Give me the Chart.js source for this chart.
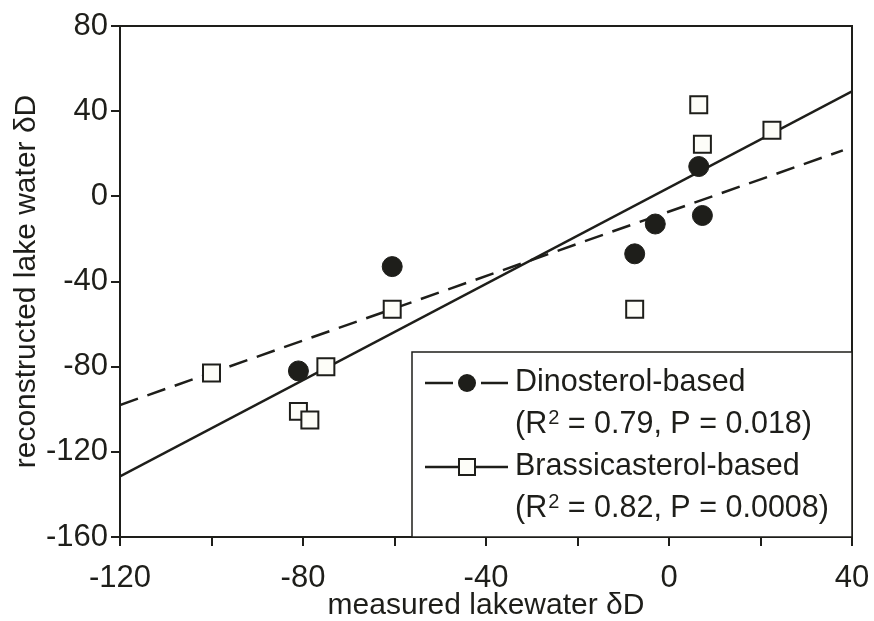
<!DOCTYPE html>
<html>
<head>
<meta charset="utf-8">
<script src="https://cdn.jsdelivr.net/npm/chart.js@4.4.0/dist/chart.umd.min.js"></script>
<style>
html, body { margin: 0; padding: 0; background: #fff; }
#wrap { width: 874px; height: 621px; }
</style>
</head>
<body>
<div id="wrap"><canvas id="chart" width="874" height="621"></canvas></div>
<script>
// measured vs reconstructed lake water dD
var dinoX = [-81, -60.5, -7.5, -3, 6.5, 7.3];
var dinoY = [-82, -33, -27, -13, 14, -9];
var brassX = [-100, -81, -78.5, -75, -60.5, -7.5, 6.5, 7.3, 22.5];
var brassY = [-83, -101, -105, -80, -53, -53, 43, 24.5, 31];

// regression lines (end points)
var dinoFitX = [-120, 38];
var dinoFitY = [-98, 21.6];
var brassFitX = [-120, 40];
var brassFitY = [-131.5, 49.3];

var xTickLabels = [-120, -80, -40, 0, 40];
var yTickLabels = [-160, -120, -80, -40, 0, 40, 80];

var legendNames = ['Dinosterol-based', 'Brassicasterol-based'];
var legendStats = [' = 0.79, P = 0.018)', ' = 0.82, P = 0.0008)'];

var ink = '#1e1e1a';
var font = '"Liberation Sans", Arial, sans-serif';

function toPoints(xs, ys) {
    var pts = [];
    for (var i = 0; i < xs.length; i++) {
        pts.push({x: xs[i], y: ys[i]});
    }
    return pts;
}

// top + right frame of the plot box
var framePlugin = {
    id: 'frame',
    beforeDatasetsDraw: function(chart) {
        var a = chart.chartArea;
        var ctx = chart.ctx;
        ctx.save();
        ctx.strokeStyle = ink;
        ctx.lineWidth = 2;
        ctx.beginPath();
        ctx.moveTo(a.left - 9, a.top);
        ctx.lineTo(a.right, a.top);
        ctx.lineTo(a.right, a.bottom);
        ctx.stroke();
        ctx.restore();
    }
};

// boxed legend in the lower right corner
var legendPlugin = {
    id: 'boxLegend',
    afterDraw: function(chart) {
        var a = chart.chartArea;
        var ctx = chart.ctx;
        var left = 412, top = 352;
        ctx.save();
        ctx.fillStyle = '#fff';
        ctx.fillRect(left, top, a.right - left, a.bottom - top);
        ctx.strokeStyle = ink;
        ctx.lineWidth = 1.5;
        ctx.strokeRect(left, top, a.right - left, a.bottom - top);

        var rows = [383, 467];
        var textX = 515;
        ctx.lineWidth = 2.5;
        for (var i = 0; i < 2; i++) {
            var y = rows[i];
            ctx.beginPath();
            if (i == 0) {
                ctx.moveTo(425, y); ctx.lineTo(453, y);
                ctx.moveTo(481, y); ctx.lineTo(508, y);
            } else {
                ctx.moveTo(425, y); ctx.lineTo(508, y);
            }
            ctx.stroke();
            if (i == 0) {
                ctx.fillStyle = ink;
                ctx.beginPath();
                ctx.arc(467, y, 9, 0, Math.PI * 2);
                ctx.fill();
            } else {
                ctx.fillStyle = '#fdfdf8';
                ctx.lineWidth = 2;
                ctx.fillRect(459, y - 8, 16, 16);
                ctx.strokeRect(459, y - 8, 16, 16);
            }

            ctx.fillStyle = ink;
            ctx.textBaseline = 'middle';
            ctx.textAlign = 'left';
            ctx.font = '30.5px ' + font;
            ctx.fillText(legendNames[i], textX, y);

            var y2 = y + 42;
            var x = textX;
            ctx.fillText('(R', x, y2);
            x += ctx.measureText('(R').width + 1;
            ctx.font = '20px ' + font;
            ctx.fillText('2', x, y2 - 7);
            x += ctx.measureText('2').width;
            ctx.font = '30.5px ' + font;
            ctx.fillText(legendStats[i], x, y2);
            ctx.lineWidth = 2.5;
        }
        ctx.restore();
    }
};

var ctx = document.getElementById('chart').getContext('2d');
var chart = new Chart(ctx, {
    type: 'scatter',
    data: {
        datasets: [{
            label: 'Dinosterol fit',
            data: toPoints(dinoFitX, dinoFitY),
            showLine: true,
            borderColor: ink,
            borderWidth: 2.5,
            borderDash: [19, 10],
            pointRadius: 0,
            order: 2
        }, {
            label: 'Brassicasterol fit',
            data: toPoints(brassFitX, brassFitY),
            showLine: true,
            borderColor: ink,
            borderWidth: 2.5,
            pointRadius: 0,
            order: 2
        }, {
            label: legendNames[0],
            data: toPoints(dinoX, dinoY),
            pointStyle: 'circle',
            pointRadius: 10,
            backgroundColor: ink,
            borderColor: ink,
            borderWidth: 1,
            order: 1
        }, {
            label: legendNames[1],
            data: toPoints(brassX, brassY),
            pointStyle: 'rect',
            pointRadius: 12,
            backgroundColor: '#fdfdf8',
            borderColor: ink,
            borderWidth: 2,
            order: 1
        }]
    },
    options: {
        responsive: false,
        animation: false,
        layout: {
            padding: {top: 26, right: 22, left: 0, bottom: 0}
        },
        plugins: {
            legend: {display: false},
            tooltip: {enabled: false}
        },
        scales: {
            x: {
                type: 'linear',
                min: -120,
                max: 40,
                afterFit: function(axis) {
                    axis.height = 84;
                    axis.paddingRight = 0;
                    axis.paddingLeft = 0;
                },
                border: {display: true, color: ink, width: 2},
                grid: {drawOnChartArea: false, drawTicks: true, tickLength: 9, color: ink, lineWidth: 2},
                ticks: {
                    stepSize: 20,
                    autoSkip: false,
                    maxRotation: 0,
                    padding: 14,
                    color: ink,
                    font: {family: font, size: 31},
                    callback: function(v) {
                        return xTickLabels.indexOf(v) >= 0 ? String(v) : '';
                    }
                },
                title: {
                    display: true,
                    text: 'measured lakewater δD',
                    color: ink,
                    padding: {top: 0, bottom: 0},
                    font: {family: font, size: 30, lineHeight: 1}
                }
            },
            y: {
                type: 'linear',
                min: -160,
                max: 80,
                afterFit: function(axis) {
                    axis.width = 120;
                    axis.paddingTop = 0;
                    axis.paddingBottom = 0;
                },
                border: {display: true, color: ink, width: 2},
                grid: {drawOnChartArea: false, drawTicks: true, tickLength: 9, color: ink, lineWidth: 2},
                ticks: {
                    stepSize: 40,
                    autoSkip: false,
                    padding: 3,
                    color: ink,
                    font: {family: font, size: 31},
                    callback: function(v) {
                        return yTickLabels.indexOf(v) >= 0 ? String(v) : '';
                    }
                },
                title: {
                    display: true,
                    text: 'reconstructed lake water δD',
                    color: ink,
                    padding: {top: 12, bottom: 0},
                    font: {family: font, size: 30, lineHeight: 1}
                }
            }
        }
    },
    plugins: [framePlugin, legendPlugin]
});
</script>
</body>
</html>
